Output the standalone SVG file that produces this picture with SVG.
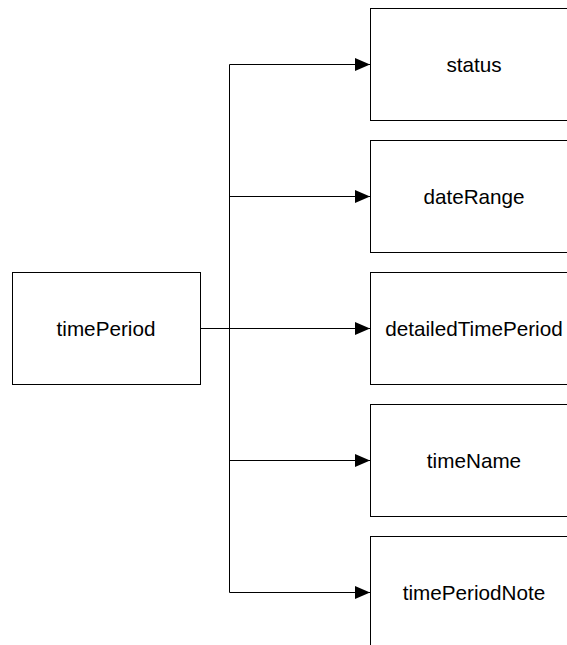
<svg xmlns="http://www.w3.org/2000/svg" width="567" height="645" viewBox="0 0 567 645">
<style>
.box{fill:#fff;stroke:#000;stroke-width:1}
.lbl{font-family:"Liberation Sans",Arial,sans-serif;font-size:20.7px;fill:#000;text-anchor:middle}
.con{fill:none;stroke:#000;stroke-width:1}
</style>
<defs>
<marker id="arr" markerUnits="userSpaceOnUse" markerWidth="16" markerHeight="14" refX="15" refY="6.5" orient="auto">
<path d="M0,0 L15,6.5 L0,13 Z" fill="#000"/>
</marker>
</defs>
<rect width="567" height="645" fill="#fff"/>
<g id="connectors">
<path class="con" d="M200.5,328.5 H229.5 V64.5 H370" marker-end="url(#arr)"/>
<path class="con" d="M200.5,328.5 H229.5 V196.5 H370" marker-end="url(#arr)"/>
<path class="con" d="M200.5,328.5 H370" marker-end="url(#arr)"/>
<path class="con" d="M200.5,328.5 H229.5 V460.5 H370" marker-end="url(#arr)"/>
<path class="con" d="M200.5,328.5 H229.5 V592.5 H370" marker-end="url(#arr)"/>
</g>
<g id="timePeriod">
<rect class="box" x="12.5" y="272.5" width="188" height="112"/>
<text class="lbl" x="106" y="336">timePeriod</text>
</g>
<g id="status">
<rect class="box" x="370.5" y="8.5" width="206" height="112"/>
<text class="lbl" x="474" y="72">status</text>
</g>
<g id="dateRange">
<rect class="box" x="370.5" y="140.5" width="206" height="112"/>
<text class="lbl" x="474" y="204">dateRange</text>
</g>
<g id="detailedTimePeriod">
<rect class="box" x="370.5" y="272.5" width="206" height="112"/>
<text class="lbl" x="474" y="336">detailedTimePeriod</text>
</g>
<g id="timeName">
<rect class="box" x="370.5" y="404.5" width="206" height="112"/>
<text class="lbl" x="474" y="468">timeName</text>
</g>
<g id="timePeriodNote">
<rect class="box" x="370.5" y="536.5" width="206" height="112"/>
<text class="lbl" x="474" y="600">timePeriodNote</text>
</g>
</svg>
